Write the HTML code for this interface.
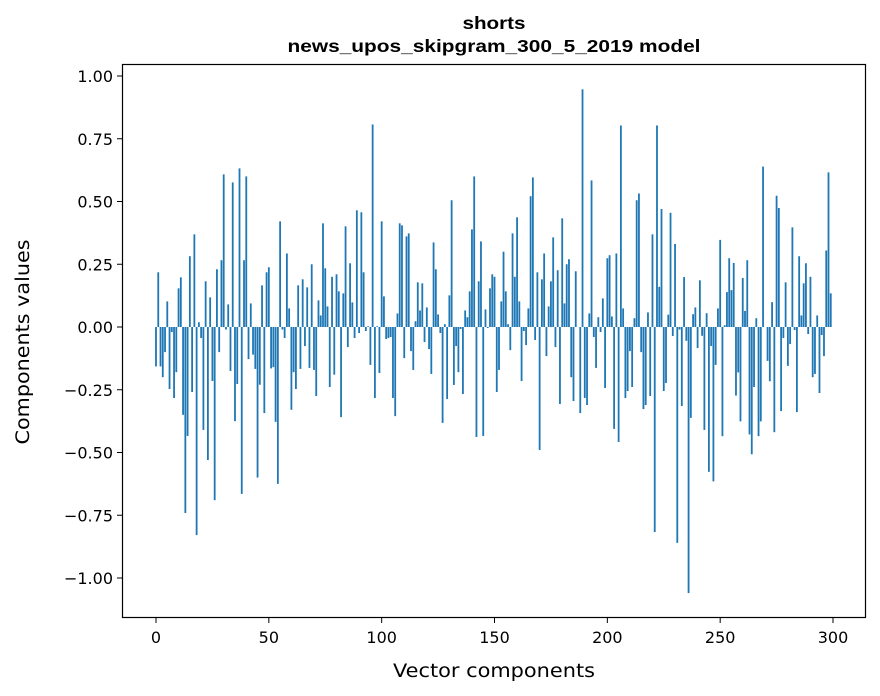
<!DOCTYPE html>
<html><head><meta charset="utf-8"><style>
body{margin:0;background:#fff;}
svg{display:block;font-family:"DejaVu Sans",sans-serif;}
</style></head><body>
<svg id="chart" width="880" height="696" viewBox="0 0 880 696" xmlns="http://www.w3.org/2000/svg">
<rect width="880" height="696" fill="#fff"/>
<text x="494" y="29" text-anchor="middle" font-size="17.5" font-weight="bold" font-family="Liberation Sans, Arial, sans-serif" textLength="63" lengthAdjust="spacingAndGlyphs">shorts</text>
<text x="494" y="52" text-anchor="middle" font-size="17.5" font-weight="bold" font-family="Liberation Sans, Arial, sans-serif" textLength="413" lengthAdjust="spacingAndGlyphs">news_upos_skipgram_300_5_2019 model</text>
<g id="bars"></g>
<g id="axes"></g>
<rect x="122.5" y="64.5" width="743" height="553" fill="none" stroke="#000" stroke-width="1.2"/>
<text x="494" y="677" text-anchor="middle" font-size="18.5" textLength="202" lengthAdjust="spacingAndGlyphs">Vector components</text>
<text transform="translate(29,342) rotate(-90)" text-anchor="middle" font-size="18.5" textLength="205" lengthAdjust="spacingAndGlyphs">Components values</text>
</svg>
<script>
const values = [-0.157,0.218,-0.157,-0.2,-0.1,0.102,-0.247,-0.02,-0.283,-0.18,
0.154,0.198,-0.35,-0.741,-0.434,0.282,-0.259,0.369,-0.829,0.019,
-0.044,-0.41,0.182,-0.53,0.118,-0.215,-0.69,0.23,-0.1,0.266,
0.608,-0.01,0.09,-0.175,0.576,-0.375,-0.227,0.632,-0.665,0.266,
0.6,-0.128,0.094,-0.11,-0.167,-0.6,-0.23,0.166,-0.343,0.218,
0.238,-0.165,-0.16,-0.378,-0.625,0.421,-0.01,-0.044,0.293,0.074,
-0.33,-0.18,-0.247,0.166,-0.167,0.19,-0.076,0.158,-0.163,0.25,
-0.171,-0.275,0.106,0.046,0.413,0.234,0.082,-0.239,0.2,-0.19,
0.21,0.142,-0.359,0.134,0.401,-0.08,0.254,0.098,-0.044,0.465,
-0.024,0.457,0.218,-0.016,0.003,-0.151,0.807,-0.283,0.003,-0.183,
0.421,0.122,-0.048,-0.044,-0.04,-0.283,-0.355,0.054,0.413,0.405,
-0.124,0.361,0.373,-0.096,-0.171,0.023,0.178,0.066,0.174,-0.06,
0.078,-0.088,-0.187,0.337,0.23,0.05,-0.024,-0.382,0.011,-0.287,
0.126,0.505,-0.231,-0.076,-0.18,-0.008,-0.267,0.066,0.039,0.142,
0.389,0.6,-0.438,0.182,0.341,-0.434,0.07,-0.004,0.154,0.21,
0.2,-0.259,-0.171,0.102,0.3,0.142,0.011,-0.092,0.373,0.2,
0.437,0.102,-0.215,-0.016,-0.072,0.074,0.521,0.596,-0.052,0.218,
-0.49,0.19,0.293,-0.116,0.082,0.182,0.357,-0.08,0.226,-0.307,
0.433,0.094,0.25,0.27,-0.2,-0.295,0.222,0.0,-0.343,0.947,
-0.283,-0.311,0.054,0.584,-0.04,-0.163,0.039,-0.02,0.114,-0.243,
0.274,0.286,0.042,-0.406,0.293,-0.458,0.803,0.074,-0.283,-0.255,
-0.096,-0.239,0.035,0.505,0.532,-0.1,-0.327,-0.311,0.058,-0.275,
0.369,-0.817,0.803,0.16,0.47,-0.255,-0.223,0.049,0.455,-0.036,
0.331,-0.86,-0.01,-0.315,0.199,-0.055,-1.06,-0.362,0.051,0.078,
-0.084,0.186,-0.035,-0.41,0.055,-0.577,-0.076,-0.615,-0.151,0.074,
0.347,-0.435,0.007,0.139,0.274,0.147,0.255,-0.273,-0.181,-0.376,
0.195,0.064,0.266,-0.428,-0.507,-0.239,0.035,-0.435,-0.376,0.639,
0.0,-0.135,-0.216,0.099,-0.419,0.523,0.474,-0.335,-0.044,0.178,
-0.155,-0.068,0.397,-0.012,-0.339,0.282,0.046,0.174,0.254,-0.028,
0.2,-0.2,-0.187,0.046,-0.263,-0.032,-0.116,0.305,0.616,0.134];
const yTicks = [-1.0,-0.75,-0.5,-0.25,0.0,0.25,0.5,0.75,1.0];
const yTickLabels = ["\u22121.00","\u22120.75","\u22120.50","\u22120.25","0.00","0.25","0.50","0.75","1.00"];
const xTicks = [0,50,100,150,200,250,300];
const xTickLabels = ["0","50","100","150","200","250","300"];

const NS="http://www.w3.org/2000/svg";
const xScale = v => 156 + 2.2567*v;
const yScale = v => 327 - 251*v;
const bars=document.getElementById('bars');
values.forEach((v,i)=>{
  const r=document.createElementNS(NS,'rect');
  const x0=xScale(i-0.4), x1=xScale(i+0.4);
  const y0=Math.min(yScale(v),yScale(0)), h=Math.abs(yScale(v)-yScale(0));
  r.setAttribute('x',x0);r.setAttribute('width',x1-x0);
  r.setAttribute('y',y0);r.setAttribute('height',Math.max(h,0.01));
  r.setAttribute('fill','#1f77b4');
  
  
  bars.appendChild(r);
});
const axes=document.getElementById('axes');
yTicks.forEach((t,i)=>{
  const y=yScale(t);
  const l=document.createElementNS(NS,'line');
  l.setAttribute('x1',117);l.setAttribute('x2',122.5);l.setAttribute('y1',y);l.setAttribute('y2',y);
  l.setAttribute('stroke','#000');l.setAttribute('stroke-width','1');
  
  
  axes.appendChild(l);
  const tx=document.createElementNS(NS,'text');
  tx.setAttribute('x',113);tx.setAttribute('y',y+6);tx.setAttribute('text-anchor','end');tx.setAttribute('font-size','16');
  tx.textContent=yTickLabels[i];
  
  
  axes.appendChild(tx);
});
xTicks.forEach((t,i)=>{
  const x=xScale(t);
  const l=document.createElementNS(NS,'line');
  l.setAttribute('x1',x);l.setAttribute('x2',x);l.setAttribute('y1',617.5);l.setAttribute('y2',623);
  l.setAttribute('stroke','#000');l.setAttribute('stroke-width','1');
  
  
  axes.appendChild(l);
  const tx=document.createElementNS(NS,'text');
  tx.setAttribute('x',x);tx.setAttribute('y',643);tx.setAttribute('text-anchor','middle');tx.setAttribute('font-size','16');
  tx.textContent=xTickLabels[i];
  
  
  axes.appendChild(tx);
});
</script>
</body></html>
